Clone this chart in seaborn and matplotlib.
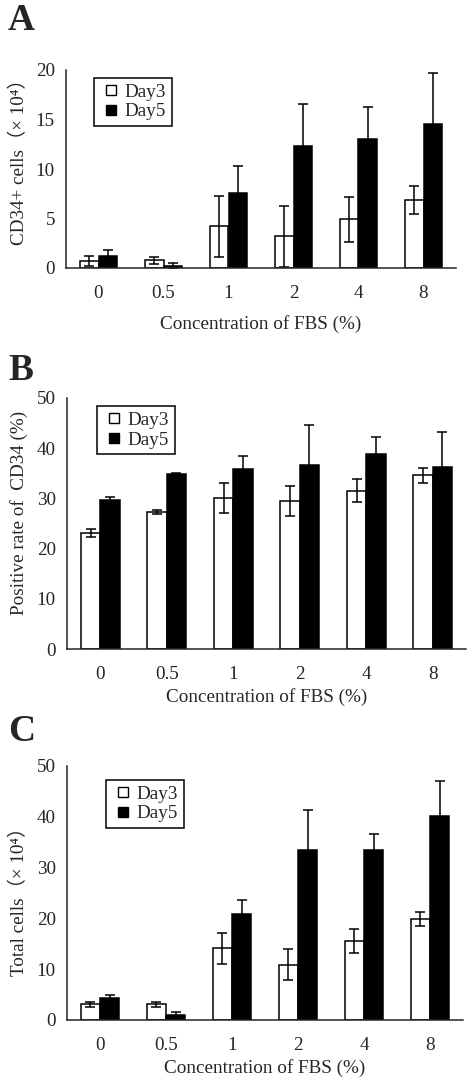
import matplotlib
matplotlib.use('Agg')
import matplotlib.pyplot as plt
import seaborn as sns
import pandas as pd
from matplotlib.ticker import FixedLocator
from matplotlib.lines import Line2D

conc = ['0', '0.5', '1', '2', '4', '8']
days = ['Day3', 'Day5']

# panel A: CD34+ cells (x10^4)
cd34_day3 = [0.7, 0.8, 4.2, 3.2, 4.9, 6.9]
cd34_day3_err = [0.5, 0.35, 3.1, 3.1, 2.3, 1.4]
cd34_day5 = [1.2, 0.25, 7.6, 12.3, 13.0, 14.5]
cd34_day5_err = [0.65, 0.3, 2.7, 4.3, 3.3, 5.2]

# panel B: positive rate of CD34 (%)
rate_day3 = [23.1, 27.2, 30.0, 29.5, 31.5, 34.6]
rate_day3_err = [0.8, 0.4, 3.0, 3.0, 2.3, 1.5]
rate_day5 = [29.6, 34.9, 35.9, 36.6, 38.8, 36.2]
rate_day5_err = [0.7, 0.25, 2.6, 8.1, 3.5, 7.0]

# panel C: total cells (x10^4)
total_day3 = [3.1, 3.1, 14.1, 10.9, 15.5, 19.9]
total_day3_err = [0.5, 0.5, 3.1, 3.1, 2.4, 1.4]
total_day5 = [4.4, 1.0, 20.8, 33.4, 33.4, 40.1]
total_day5_err = [0.5, 0.5, 2.8, 8.0, 3.2, 7.0]

SERIF = ['Liberation Serif', 'Noto Sans CJK SC']
FS = 13.8
COLORS = {'Day3': 'white', 'Day5': 'black'}


def make_df(d3, d5):
    rows = []
    for day, vals in zip(days, [d3, d5]):
        for c, v in zip(conc, vals):
            rows.append({'conc': c, 'day': day, 'value': v})
    return pd.DataFrame(rows)


def draw_panel(ax, d3, d5, e3, e5, ymax, ylabel, ylab_y, leg_anchor, xlabelpad):
    df = make_df(d3, d5)
    sns.barplot(data=df, x='conc', y='value', hue='day', order=conc, hue_order=days,
                palette=COLORS, edgecolor='black',
                linewidth=1.1, width=0.58, errorbar=None, legend=False, ax=ax)
    for cont, errs in zip(ax.containers, [e3, e5]):
        xs = [p.get_x() + p.get_width() / 2 for p in cont]
        hs = [p.get_height() for p in cont]
        ax.errorbar(xs, hs, yerr=errs, fmt='none', ecolor='black',
                    elinewidth=1.1, capsize=3.5, capthick=1.1)
    ax.set_xlim(-0.5, 5.5)
    ax.set_ylim(0, ymax)
    ax.set_yticks(range(0, ymax + 1, 5 if ymax == 20 else 10))
    sns.despine(ax=ax)
    ax.tick_params(axis='y', direction='in', length=4, width=1, pad=8, labelsize=FS)
    ax.tick_params(axis='x', which='major', length=0, pad=12, labelsize=FS)
    ax.xaxis.set_minor_locator(FixedLocator([i + 0.5 for i in range(6)]))
    ax.tick_params(axis='x', which='minor', direction='in', length=4, width=1)
    for lab in ax.get_xticklabels() + ax.get_yticklabels():
        lab.set_family(SERIF)
    ax.set_xlabel('Concentration of FBS (%)', family=SERIF, fontsize=FS, labelpad=xlabelpad)
    ax.set_ylabel(ylabel, family=SERIF, fontsize=FS)
    ax.yaxis.set_label_coords(-0.097, ylab_y)
    for s in ax.spines.values():
        s.set_linewidth(1.1)
    handles = [Line2D([], [], ls='none', marker='s', markersize=7.5,
                      markerfacecolor=COLORS[d], markeredgecolor='black',
                      markeredgewidth=1.0) for d in days]
    leg = ax.legend(handles, days, loc='upper left',
                    bbox_to_anchor=leg_anchor, prop={'family': SERIF, 'size': FS},
                    frameon=True, fancybox=False, edgecolor='black', framealpha=1,
                    handlelength=1.2, handletextpad=0.1,
                    borderpad=0.3, labelspacing=0.1, borderaxespad=0)
    leg.get_frame().set_linewidth(1.1)


sns.set_style('white')
plt.rcParams['font.family'] = SERIF

fig = plt.figure(figsize=(4.68, 10.79), dpi=100)
H = 1079.0
W = 468.0

axA = fig.add_axes([66 / W, 1 - 268 / H, 390 / W, 198 / H])
draw_panel(axA, cd34_day3, cd34_day5, cd34_day3_err, cd34_day5_err, 20,
           'CD34+ cells（× 10⁴）', 0.56, (0.072, 0.96), 10)

axB = fig.add_axes([67 / W, 1 - 649 / H, 399 / W, 251 / H])
draw_panel(axB, rate_day3, rate_day5, rate_day3_err, rate_day5_err, 50,
           'Positive rate of  CD34 (%)', 0.542, (0.075, 0.968), 4)

axC = fig.add_axes([67 / W, 1 - 1020 / H, 396 / W, 254 / H])
draw_panel(axC, total_day3, total_day5, total_day3_err, total_day5_err, 50,
           'Total cells（× 10⁴）', 0.484, (0.098, 0.945), 4)

for letter, ybase in [('A', 30), ('B', 380), ('C', 741)]:
    fig.text(8 / W, 1 - ybase / H, letter, fontsize=27, fontweight='bold',
             family=SERIF, va='baseline', ha='left')

fig.savefig('out.png', dpi=100)
